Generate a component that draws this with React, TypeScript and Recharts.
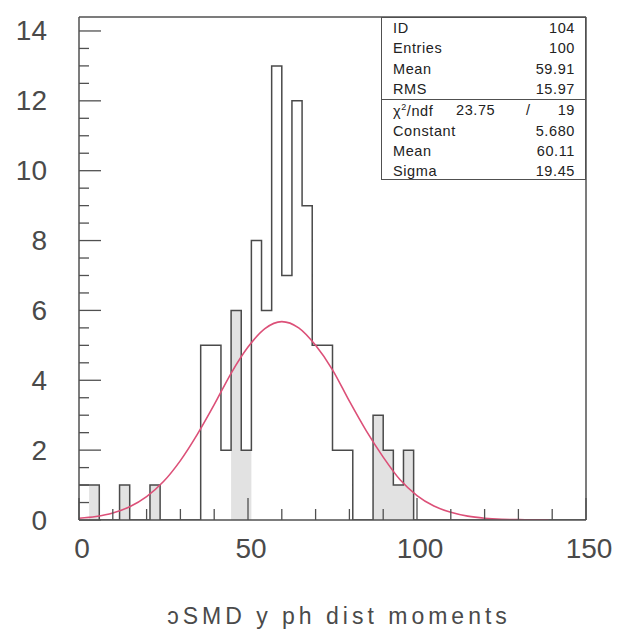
import React from 'react'
import { ComposedChart, Line, Area, XAxis, YAxis, ReferenceLine } from 'recharts'

// histogram: 50 bins of width 3 over 0..150
const BIN_WIDTH = 3
const binCounts = [
  1, 1, 0, 0, 1, 0, 0, 1, 0, 0,
  0, 0, 5, 5, 2, 6, 2, 8, 6, 13,
  7, 12, 9, 5, 5, 2, 2, 0, 0, 3,
  2, 1, 2, 0, 0, 0, 0, 0, 0, 0,
  0, 0, 0, 0, 0, 0, 0, 0, 0, 0,
]
// narrow bins that show up grey in the scan
const shadedBinStarts = [3, 12, 21, 45, 48, 87, 90, 93, 96]

// fitted gaussian
const fitX = [0, 5, 10, 15, 20, 25, 30, 35, 40, 45, 50, 55, 60, 65, 70, 75, 80, 85, 90, 95, 100, 105, 110, 115, 120, 125, 130, 135, 139]
const fitY = [0.05, 0.1, 0.2, 0.38, 0.67, 1.1, 1.7, 2.45, 3.3, 4.2, 4.95, 5.48, 5.68, 5.5, 5.0, 4.3, 3.4, 2.55, 1.8, 1.15, 0.7, 0.4, 0.22, 0.11, 0.05, 0.02, 0.01, 0.005, 0]

const xTicks = [0, 10, 20, 30, 40, 50, 60, 70, 80, 90, 100, 110, 120, 130, 140, 150]
const xLabels = [0, 50, 100, 150]
const yLabels = [0, 2, 4, 6, 8, 10, 12, 14]
const Y_MINOR_STEP = 0.5
const X_MAX = 150
const Y_MAX = 14.4

const statsTop = [
  ['ID', '104'],
  ['Entries', '100'],
  ['Mean', '59.91'],
  ['RMS', '15.97'],
]
const chi2 = { value: '23.75', ndf: '19' }
const statsFit = [
  ['Constant', '5.680'],
  ['Mean', '60.11'],
  ['Sigma', '19.45'],
]

const COLORS = {
  frame: '#505050',
  hist: '#4a4a4a',
  shade: '#e2e2e2',
  fit: '#dc5078',
  label: '#4a4a4a',
  text: '#222',
}

const histData = [
  ...binCounts.map((c, i) => ({
    x: i * BIN_WIDTH,
    count: c,
    shade: shadedBinStarts.includes(i * BIN_WIDTH) ? c : 0,
  })),
  { x: X_MAX, count: 0, shade: 0 },
]
const fitData = fitX.map((x, i) => ({ x, y: fitY[i] }))

const yTicks: number[] = []
for (let v = 0; v <= 14 + 1e-9; v += Y_MINOR_STEP) yTicks.push(Math.round(v * 10) / 10)

const AXIS_FONT = '"Liberation Sans", Arial, sans-serif'

function YTick({ x, y, payload }: any) {
  const v = payload.value
  const major = yLabels.includes(v)
  return (
    <g>
      <line x1={x} y1={y} x2={x + (major ? 22 : 10)} y2={y} stroke={COLORS.frame} strokeWidth={1.3} />
      {major && (
        <text x={x - 32} y={y} textAnchor="end" dominantBaseline="central" fontSize={28} fill={COLORS.label} fontFamily={AXIS_FONT}>
          {v}
        </text>
      )}
    </g>
  )
}

function XTick({ x, y, payload }: any) {
  const v = payload.value
  const major = xLabels.includes(v)
  return (
    <g>
      <line x1={x} y1={y} x2={x} y2={y - (major ? 22 : 11)} stroke={COLORS.frame} strokeWidth={1.3} />
      {major && (
        <text x={x + 3} y={y + 28} textAnchor="middle" dominantBaseline="central" fontSize={28} fill={COLORS.label} fontFamily={AXIS_FONT}>
          {v}
        </text>
      )}
    </g>
  )
}

const rowStyle: React.CSSProperties = {
  display: 'flex',
  justifyContent: 'space-between',
  height: 20.3,
  alignItems: 'center',
  position: 'relative',
}

export default function App() {
  return (
    <div style={{ position: 'absolute', left: 0, top: 0, width: 622, height: 633, background: '#fff' }}>
      <ComposedChart width={622} height={633} data={histData} margin={{ top: 17, right: 36, bottom: 73, left: 0 }}>
        <XAxis
          dataKey="x"
          type="number"
          domain={[0, X_MAX]}
          ticks={xTicks}
          interval={0}
          tickSize={0}
          tickMargin={0}
          height={40}
          tick={<XTick />}
          axisLine={{ stroke: COLORS.frame, strokeWidth: 1.5 }}
          tickLine={false}
          allowDataOverflow
        />
        <YAxis
          type="number"
          domain={[0, Y_MAX]}
          ticks={yTicks}
          interval={0}
          tickSize={0}
          tickMargin={0}
          width={79}
          tick={<YTick />}
          axisLine={{ stroke: COLORS.frame, strokeWidth: 1.5 }}
          tickLine={false}
          allowDataOverflow
        />
        <Area
          type="stepAfter"
          dataKey="shade"
          stroke="none"
          fill={COLORS.shade}
          fillOpacity={1}
          isAnimationActive={false}
        />
        <Line
          type="stepAfter"
          dataKey="count"
          stroke={COLORS.hist}
          strokeWidth={1.5}
          dot={false}
          isAnimationActive={false}
        />
        <Line
          data={fitData}
          type="monotone"
          dataKey="y"
          stroke={COLORS.fit}
          strokeWidth={1.6}
          dot={false}
          isAnimationActive={false}
        />
        <ReferenceLine y={Y_MAX} stroke={COLORS.frame} strokeWidth={1.5} />
        <ReferenceLine x={X_MAX} stroke={COLORS.frame} strokeWidth={1.5} />
      </ComposedChart>

      <div
        style={{
          position: 'absolute',
          left: 381,
          top: 17,
          width: 205,
          height: 163,
          boxSizing: 'border-box',
          border: `1.5px solid ${COLORS.frame}`,
          background: '#fff',
          fontFamily: AXIS_FONT,
          fontSize: 14.5,
          letterSpacing: 0.6,
          color: COLORS.text,
          padding: '0 10px 0 11px',
        }}
      >
        {statsTop.map(([k, v]) => (
          <div key={k} style={rowStyle}>
            <span>{k}</span>
            <span>{v}</span>
          </div>
        ))}
        <div style={{ borderTop: `1.5px solid ${COLORS.frame}`, margin: '0 -10px 0 -11px' }} />
        <div style={rowStyle}>
          <span>
            χ<sup style={{ fontSize: 9 }}>2</sup>/ndf
          </span>
          <span style={{ position: 'absolute', left: 63 }}>{chi2.value}</span>
          <span style={{ position: 'absolute', left: 133 }}>/</span>
          <span>{chi2.ndf}</span>
        </div>
        {statsFit.map(([k, v]) => (
          <div key={k} style={rowStyle}>
            <span>{k}</span>
            <span>{v}</span>
          </div>
        ))}
      </div>

      <div
        style={{
          position: 'absolute',
          left: 339,
          top: 603,
          transform: 'translateX(-50%)',
          whiteSpace: 'nowrap',
          fontFamily: AXIS_FONT,
          fontSize: 23,
          letterSpacing: 4,
          color: COLORS.label,
        }}
      >
        ɔSMD y ph dist moments
      </div>
    </div>
  )
}
